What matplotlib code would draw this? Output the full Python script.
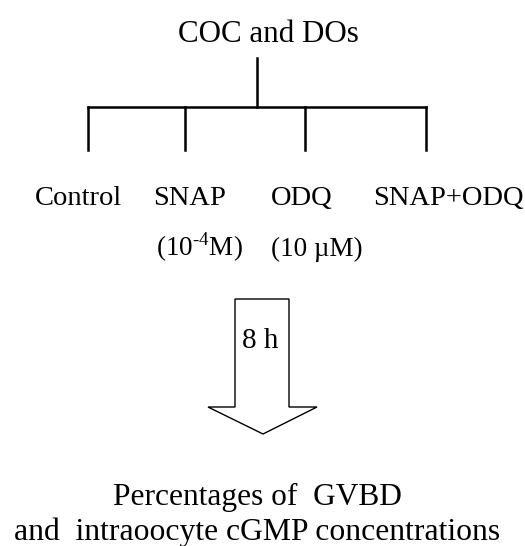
import matplotlib.pyplot as plt
from matplotlib.patches import Polygon

plt.rcParams['font.family'] = ['Liberation Serif', 'DejaVu Serif']
plt.rcParams['mathtext.fontset'] = 'custom'
plt.rcParams['mathtext.rm'] = 'Liberation Serif'

title = 'COC and DOs'
groups = ['Control', 'SNAP', 'ODQ', 'SNAP+ODQ']
doses = ['', r'(10$^{\text{-4}}$M)', '(10 \u00b5M)', '']
duration = '8 h'
outcome = ['Percentages of  GVBD', 'and  intraoocyte cGMP concentrations']

fig = plt.figure(figsize=(5.25, 5.46), dpi=100)
ax = fig.add_axes([0, 0, 1, 1])
ax.set_xlim(0, 525)
ax.set_ylim(546, 0)
ax.axis('off')

# tree
ax.text(268, 42, title, ha='center', va='baseline', fontsize=22.3)
ax.plot([257, 257], [58, 107], color='black', lw=1.8)
drop_x = [88, 185, 305, 426]
ax.plot([drop_x[0], drop_x[-1]], [107, 107], color='black', lw=1.8,
        solid_capstyle='projecting')
for x in drop_x:
    ax.plot([x, x], [107, 150], color='black', lw=1.8)

label_x = [78, 190, 302, 448]
for x, g in zip(label_x, groups):
    ax.text(x, 205, g, ha='center', va='baseline', fontsize=20.5)
dose_x = [78, 199, 317, 448]
for x, d in zip(dose_x, doses):
    if d:
        ax.text(x, 256, d, ha='center', va='baseline', fontsize=19.5)

# block arrow
arrow = Polygon([(235, 299), (289, 299), (289, 407), (317, 407), (263, 434),
                 (208, 407), (235, 407)], closed=True, fill=False,
                edgecolor='black', lw=1.0)
ax.add_patch(arrow)
ax.text(260, 348, duration, ha='center', va='baseline', fontsize=21)

ax.text(257, 505, outcome[0], ha='center', va='baseline', fontsize=22.6)
ax.text(257, 540, outcome[1], ha='center', va='baseline', fontsize=22.8)

fig.savefig('out.png', dpi=100)
